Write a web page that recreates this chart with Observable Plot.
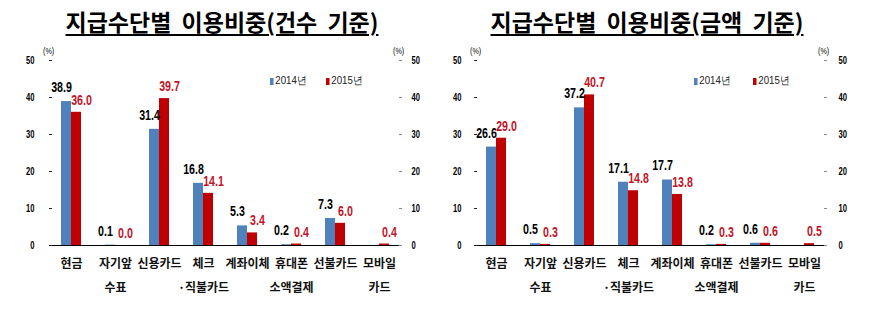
<!DOCTYPE html>
<html><head><meta charset="utf-8">
<script src="https://cdn.jsdelivr.net/npm/d3@7"></script>
<script src="https://cdn.jsdelivr.net/npm/@observablehq/plot@0.6"></script>
<style>
body{margin:0;background:#fff;}
#wrap{position:relative;width:882px;height:322px;overflow:hidden;font-family:"Noto Sans CJK KR",sans-serif;}
.panel{position:absolute;top:0;width:441px;height:322px;}
.title{position:absolute;top:6px;font-size:23px;font-weight:700;text-decoration:underline;text-underline-offset:3px;text-decoration-thickness:2px;white-space:nowrap;word-spacing:5px;transform:translateX(-50%);color:#000;line-height:31px;}
.pct{position:absolute;font-size:9px;font-family:'Liberation Sans',sans-serif;color:#000;line-height:10px;transform:scaleX(0.8);transform-origin:left;}
.leg{position:absolute;font-size:11px;font-family:'Liberation Sans',sans-serif;color:#222;line-height:12px;white-space:nowrap;transform:scaleX(0.88);transform-origin:left;}
.sw{display:inline-block;width:4px;height:7px;margin-right:2px;vertical-align:-1px;}
</style>
</head><body>
<div id="wrap"></div>
<script>
const categories = ["현금","자기앞수표","신용카드","체크·직불카드","계좌이체","휴대폰소액결제","선불카드","모바일카드"];
const tickLabels = ["현금","자기앞\n수표","신용카드","체크\n·직불카드","계좌이체","휴대폰\n소액결제","선불카드","모바일\n카드"];
const years = ["2014","2015"];
const legendLabels = ["2014년","2015년"];
const countTitle = "지급수단별 이용비중(건수 기준)";
const amountTitle = "지급수단별 이용비중(금액 기준)";
const count2014 = [38.9, 0.1, 31.4, 16.8, 5.3, 0.2, 7.3, null];
const count2015 = [36.0, 0.0, 39.7, 14.1, 3.4, 0.4, 6.0, 0.4];
const amount2014 = [26.6, 0.5, 37.2, 17.1, 17.7, 0.2, 0.6, null];
const amount2015 = [29.0, 0.3, 40.7, 14.8, 13.8, 0.3, 0.6, 0.5];
const yTicks = [0,10,20,30,40,50];

const BLUE = "#4f81bd", RED = "#c00000", REDTXT = "#c0142a";
const numFont = "'Liberation Sans',Arial,sans-serif";
const korFont = "'Noto Sans CJK KR',sans-serif";

function makePanel(v14, v15, m) {
  const data = [];
  categories.forEach((c, i) => {
    data.push({cat: c, year: years[0], v: v14[i]});
    data.push({cat: c, year: years[1], v: v15[i]});
  });
  const bars = data.filter(d => d.v != null);
  return Plot.plot({
    width: 441, height: 322,
    marginLeft: m.left, marginRight: m.right, marginTop: 60, marginBottom: 77,
    style: {fontFamily: numFont, fontSize: "10px", background: "transparent"},
    fx: {domain: categories, padding: 0, axis: null, label: null},
    x: {domain: years, paddingInner: 0.04, paddingOuter: 1.05, axis: null, label: null},
    y: {domain: [0, 50], label: null},
    color: {domain: years, range: [BLUE, RED]},
    marks: [
      Plot.barY(bars, {fx: "cat", x: "year", y: "v", fill: "year"}),
      Plot.ruleY([0], {stroke: "#000", strokeWidth: 1.2}),
      Plot.text(bars.filter(d => d.year === years[0]), {fx: "cat", x: "year", y: "v", text: d => d.v.toFixed(1), dy: -14, dx: -5, fill: "#000", fontWeight: 700, fontSize: 14, fontFamily: numFont}),
      Plot.text(bars.filter(d => d.year === years[1]), {fx: "cat", x: "year", y: "v", text: d => d.v.toFixed(1), dy: -12, dx: 5, fill: REDTXT, fontWeight: 700, fontSize: 14, fontFamily: numFont}),
      Plot.text(categories, {fx: d => d, text: d => tickLabels[categories.indexOf(d)], frameAnchor: "bottom", lineAnchor: "top", dy: 6, lineHeight: 1.95, fontSize: 12, fontWeight: 700, fontFamily: korFont, fill: "#111"}),
      Plot.axisY({anchor: "left", ticks: yTicks, tickSize: -3, tickPadding: m.lp, line: true, stroke: "#222", fontSize: 10, fontWeight: 700, fill: "#000", label: null}),
      Plot.axisY({anchor: "right", ticks: yTicks, tickSize: -3, tickPadding: m.rp, line: true, stroke: "#888", fontSize: 10, fontWeight: 700, fill: "#000", label: null})
    ]
  });
}

// narrow the numeric texts to match the condensed digits of the original
function condense(svg, factor) {
  svg.querySelectorAll("text").forEach(t => {
    if (/^[\d.]+$/.test(t.textContent.trim())) {
      const w = t.getComputedTextLength();
      t.setAttribute("textLength", (w * factor).toFixed(2));
      t.setAttribute("lengthAdjust", "spacingAndGlyphs");
    }
  });
}

const wrap = document.getElementById("wrap");
function addPanel(left, title, titleX, v14, v15, m, pctL, pctR, legX) {
  const p = document.createElement("div");
  p.className = "panel"; p.style.left = left + "px";
  const svg = makePanel(v14, v15, m);
  p.appendChild(svg);
  wrap.appendChild(p);
  condense(svg, 0.76);
  const t = document.createElement("div");
  t.className = "title"; t.textContent = title; t.style.left = titleX + "px";
  wrap.appendChild(t);
  [pctL, pctR].forEach(x => {
    const d = document.createElement("div");
    d.className = "pct"; d.textContent = "(%)"; d.style.left = x + "px"; d.style.top = "46px";
    wrap.appendChild(d);
  });
  years.forEach((y, i) => {
    const d = document.createElement("div");
    d.className = "leg"; d.style.left = legX[i] + "px"; d.style.top = "74px";
    d.innerHTML = `<span class="sw" style="background:${i ? RED : BLUE}"></span>${legendLabels[i]}`;
    wrap.appendChild(d);
  });
}
addPanel(0, countTitle, 222, count2014, count2015, {left: 47, right: 38, lp: 18, rp: 13}, 43, 393, [270, 326]);
addPanel(441, amountTitle, 647, amount2014, amount2015, {left: 31, right: 55, lp: 16, rp: 15}, 470, 818, [694, 753]);
</script>
</body></html>
